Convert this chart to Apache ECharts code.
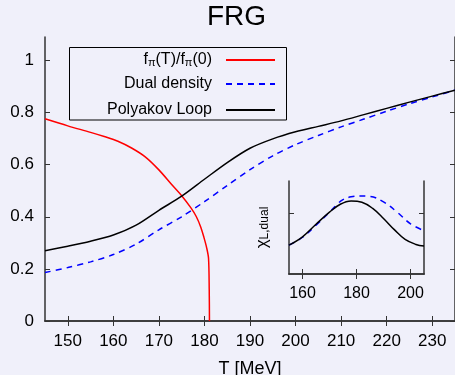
<!DOCTYPE html>
<html><head><meta charset="utf-8">
<script src="https://cdn.jsdelivr.net/npm/echarts@6/dist/echarts.min.js"></script>
<style>html,body{margin:0;padding:0;background:#f0f0fa}#c{width:455px;height:375px}</style>
</head><body><div id="c"></div>
<script>
const FONT = '"Liberation Sans", Arial, Helvetica, sans-serif';

// ---- main panel data ----
const mainT    = [145,150,155,160,165,170,175,180,185,190,195,200,205,210,215,220,225,230,235];
const polyakov = [0.27,0.287,0.306,0.33,0.368,0.425,0.479,0.544,0.608,0.663,0.699,0.726,0.747,0.768,0.792,0.816,0.84,0.863,0.886];
const dualDens = [0.186,0.205,0.227,0.255,0.295,0.35,0.40,0.458,0.52,0.581,0.634,0.677,0.712,0.745,0.775,0.805,0.834,0.86,0.886];
const fpiT     = [145,150,155,158,161,164,167,170,173,175,177,178.2,179.2,179.9,180.5,180.9,181.05,181.1];
const fpiRatio = [0.776,0.749,0.724,0.708,0.69,0.664,0.63,0.58,0.52,0.481,0.435,0.401,0.36,0.32,0.28,0.24,0.12,0.0];
const mainXTicks = [150,160,170,180,190,200,210,220,230];
const mainYTicks = [0,0.2,0.4,0.6,0.8,1];

// ---- inset data (chi_L, dual) ----
const insetT     = [155,160,165,170,174,178,182,186,190,194,198,202,205];
const insetPoly  = [0.31,0.40,0.535,0.665,0.75,0.785,0.772,0.705,0.597,0.477,0.372,0.318,0.30];
const insetDualT = [155,160,165,170,173,175,178,181,185,190,195,200,205];
const insetDual  = [0.31,0.395,0.525,0.665,0.755,0.80,0.83,0.84,0.835,0.775,0.667,0.54,0.465];
const insetXTicks = [160,180,200];
const insetYTicks = [0.65];

const zip = (a,b) => a.map((v,i)=>[v,b[i]]);
const axisLine = {show:true, lineStyle:{color:'#333', width:1.5}};
const tick = {show:true, inside:true, length:5, lineStyle:{color:'#333', width:1}};
const txt = {fontFamily:FONT, color:'#000'};

const chart = echarts.init(document.getElementById('c'));
const legendRich = {
  n:{fontFamily:FONT, fontSize:16, color:'#000'},
  s:{fontFamily:FONT, fontSize:11, color:'#000', verticalAlign:'bottom', padding:[6,0,0,0]}
};
function legendItem(name, top, label){
  return {data:[name], right:179, top:top, align:'right', itemWidth:49, itemHeight:16, padding:0,
    selectedMode:false, formatter: () => label,
    itemStyle:{opacity:0, color:'transparent', borderWidth:0},
    textStyle:{fontFamily:FONT, fontSize:16, color:'#000', padding:[0,9,0,0], rich:legendRich}};
}
chart.setOption({
  animation:false,
  backgroundColor:'#f0f0fa',
  title:{text:'FRG', left:202, top:-2, textStyle:{fontFamily:FONT, fontSize:28, fontWeight:'normal', color:'#000'}},
  legend:[
    legendItem('fpi', 52, '{n|f}{s|π}{n|(T)/f}{s|π}{n|(0)}'),
    legendItem('Dual density', 76, '{n|Dual density}'),
    legendItem('Polyakov Loop', 102, '{n|Polyakov Loop}')
  ],
  graphic:[{type:'rect', shape:{x:69.5, y:47.5, width:217, height:72.5}, style:{fill:'none', stroke:'#000', lineWidth:1}, z:10}],
  grid:[
    {left:45, right:0, top:37, bottom:54, containLabel:false, outerBoundsMode:'none'},
    {left:289, top:181, width:135, height:93, containLabel:false, outerBoundsMode:'none'}
  ],
  xAxis:[
    {gridIndex:0, type:'value', min:145, max:235, position:'bottom',
     axisLine, axisTick:{...tick, customValues:mainXTicks}, splitLine:{show:false},
     axisLabel:{...txt, fontSize:17, margin:12, customValues:mainXTicks},
     name:'T [MeV]', nameLocation:'middle', nameGap:39, nameTextStyle:{...txt, fontSize:18}},
    {gridIndex:0, type:'value', min:145, max:235, position:'top',
     axisLine, axisTick:{...tick, customValues:mainXTicks}, splitLine:{show:false}, axisLabel:{show:false}},
    {gridIndex:1, type:'value', min:155, max:205, position:'bottom',
     axisLine, axisTick:{...tick, customValues:insetXTicks}, splitLine:{show:false},
     axisLabel:{...txt, fontSize:16, margin:12, customValues:insetXTicks}},
    {gridIndex:1, type:'value', min:155, max:205, position:'top',
     axisLine, axisTick:{...tick, customValues:insetXTicks}, splitLine:{show:false}, axisLabel:{show:false}}
  ],
  yAxis:[
    {gridIndex:0, type:'value', min:0, max:1.09, position:'left',
     axisLine, axisTick:{...tick, customValues:mainYTicks}, splitLine:{show:false},
     axisLabel:{...txt, fontSize:17, margin:11, customValues:mainYTicks, formatter:v=>String(Math.round(v*10)/10)}},
    {gridIndex:0, type:'value', min:0, max:1.09, position:'right',
     axisLine, axisTick:{...tick, customValues:mainYTicks}, splitLine:{show:false}, axisLabel:{show:false}},
    {gridIndex:1, type:'value', min:0, max:1, position:'left',
     axisLine, axisTick:{...tick, customValues:insetYTicks}, splitLine:{show:false}, axisLabel:{show:false},
     name:'{c|χ}{s|L,dual}', nameLocation:'middle', nameRotate:90, nameGap:18,
     nameTextStyle:{...txt, fontSize:16, rich:{
       c:{fontFamily:FONT, fontSize:17, color:'#000'},
       s:{fontFamily:FONT, fontSize:12, color:'#000', verticalAlign:'bottom', padding:[6,0,0,0]}}}},
    {gridIndex:1, type:'value', min:0, max:1, position:'right',
     axisLine, axisTick:{...tick, customValues:insetYTicks}, splitLine:{show:false}, axisLabel:{show:false}}
  ],
  series:[
    {type:'line', name:'fpi', xAxisIndex:0, yAxisIndex:0, data:zip(fpiT,fpiRatio), symbol:'none', smooth:0.3,
     lineStyle:{color:'#ff0000', width:1.5}, itemStyle:{color:'#ff0000'}},
    {type:'line', name:'Dual density', xAxisIndex:0, yAxisIndex:0, data:zip(mainT,dualDens), symbol:'none', smooth:0.3,
     lineStyle:{color:'#0000ff', width:1.5, type:[6,5]}, itemStyle:{color:'#0000ff'}},
    {type:'line', name:'Polyakov Loop', xAxisIndex:0, yAxisIndex:0, data:zip(mainT,polyakov), symbol:'none', smooth:0.3,
     lineStyle:{color:'#000', width:1.5}, itemStyle:{color:'#000'}},
    {type:'line', name:'insetDual', xAxisIndex:2, yAxisIndex:2, data:zip(insetDualT,insetDual), symbol:'none', smooth:0.4,
     lineStyle:{color:'#0000ff', width:1.5, type:[6,5]}, itemStyle:{color:'#0000ff'}},
    {type:'line', name:'insetPoly', xAxisIndex:2, yAxisIndex:2, data:zip(insetT,insetPoly), symbol:'none', smooth:0.4,
     lineStyle:{color:'#000', width:1.5}, itemStyle:{color:'#000'}}
  ]
});
</script></body></html>
